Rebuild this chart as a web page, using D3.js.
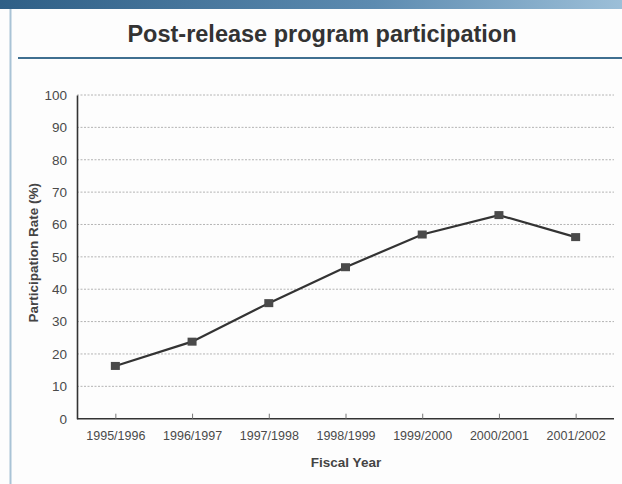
<!DOCTYPE html>
<html>
<head>
<meta charset="utf-8">
<script src="https://cdn.jsdelivr.net/npm/d3@7"></script>
<style>
  html, body { margin: 0; padding: 0; background: #ffffff; }
  svg { display: block; }
  text { font-family: "Liberation Sans", Arial, sans-serif; }
</style>
</head>
<body>
<svg id="chart" width="622" height="484"></svg>
<script>
// Fiscal-year participation rates in post-release programs
const years = ["1995/1996", "1996/1997", "1997/1998", "1998/1999", "1999/2000", "2000/2001", "2001/2002"];
const rates = [16.3, 23.8, 35.7, 46.8, 56.9, 62.9, 56.1];
const yTicks = [0, 10, 20, 30, 40, 50, 60, 70, 80, 90, 100];

const svg = d3.select("#chart");
const W = 622, H = 484;

// header strip and panel frame
const defs = svg.append("defs");
const grad = defs.append("linearGradient").attr("id", "hdr").attr("x1", 0).attr("x2", 1);
grad.append("stop").attr("offset", "0%").attr("stop-color", "#2f5f86");
grad.append("stop").attr("offset", "60%").attr("stop-color", "#5d8bb0");
grad.append("stop").attr("offset", "100%").attr("stop-color", "#9cbfd8");
svg.append("rect").attr("x", 0).attr("y", 0).attr("width", W).attr("height", 9).attr("fill", "url(#hdr)");
svg.append("rect").attr("x", 0).attr("y", 9).attr("width", W).attr("height", H - 9).attr("fill", "#fdfdfd");
svg.append("line").attr("x1", 10.5).attr("x2", 10.5).attr("y1", 9).attr("y2", H)
  .attr("stroke", "#a9c3d6").attr("stroke-width", 2);

// title and rule
svg.append("text").attr("x", 322).attr("y", 42).attr("text-anchor", "middle")
  .attr("font-size", 23.5).attr("font-weight", "bold").attr("fill", "#333")
  .text("Post-release program participation");
svg.append("line").attr("x1", 18).attr("x2", W).attr("y1", 58).attr("y2", 58)
  .attr("stroke", "#3f6f90").attr("stroke-width", 2);

// plot area
const m = { left: 77, right: 614, top: 95, bottom: 418.7 };
const x = d3.scalePoint().domain(years).range([m.left, m.right]).padding(0.5);
const y = d3.scaleLinear().domain([0, 100]).range([m.bottom, m.top]);

// horizontal gridlines
svg.append("g").selectAll("line").data(yTicks.filter(d => d > 0)).join("line")
  .attr("x1", m.left).attr("x2", m.right)
  .attr("y1", d => y(d)).attr("y2", d => y(d))
  .attr("stroke", "#b4b4b4").attr("stroke-width", 1).attr("stroke-dasharray", "2,1.5");

// y axis
const yAxis = svg.append("g").attr("transform", `translate(${m.left},0)`)
  .call(d3.axisLeft(y).tickValues(yTicks).tickSize(0).tickPadding(10));
yAxis.select(".domain").attr("stroke", "#333").attr("stroke-width", 1.6);
yAxis.selectAll("text").attr("font-size", 13.5).attr("fill", "#4a4a4a")
  .attr("font-family", "Liberation Sans, Arial, sans-serif");

// x axis with ticks pointing up into the plot
const xAxis = svg.append("g").attr("transform", `translate(0,${m.bottom})`)
  .call(d3.axisBottom(x).tickSize(-5).tickPadding(12));
xAxis.select(".domain").attr("d", `M${m.left},0H${m.right}`).attr("stroke", "#333").attr("stroke-width", 1.6);
xAxis.selectAll(".tick line").attr("stroke", "#777");
xAxis.selectAll("text").attr("font-size", 12.5).attr("fill", "#4a4a4a")
  .attr("font-family", "Liberation Sans, Arial, sans-serif");

// axis titles
svg.append("text").attr("transform", `translate(33,${(m.top + m.bottom) / 2 - 4}) rotate(-90)`)
  .attr("text-anchor", "middle").attr("dy", "0.35em").attr("font-size", 13.5).attr("font-weight", "bold").attr("fill", "#444")
  .text("Participation Rate (%)");
svg.append("text").attr("x", 346).attr("y", 467).attr("text-anchor", "middle")
  .attr("font-size", 13.5).attr("font-weight", "bold").attr("fill", "#444")
  .text("Fiscal Year");

// series line and square markers
const pts = years.map((yr, i) => [x(yr), y(rates[i])]);
svg.append("path").attr("d", d3.line()(pts)).attr("fill", "none")
  .attr("stroke", "#333").attr("stroke-width", 2.2);
svg.append("g").selectAll("rect").data(years).join("rect")
  .attr("x", d => x(d) - 4.5).attr("y", (d, i) => y(rates[i]) - 4)
  .attr("width", 9).attr("height", 8).attr("fill", "#4a4a4a");
</script>
</body>
</html>
